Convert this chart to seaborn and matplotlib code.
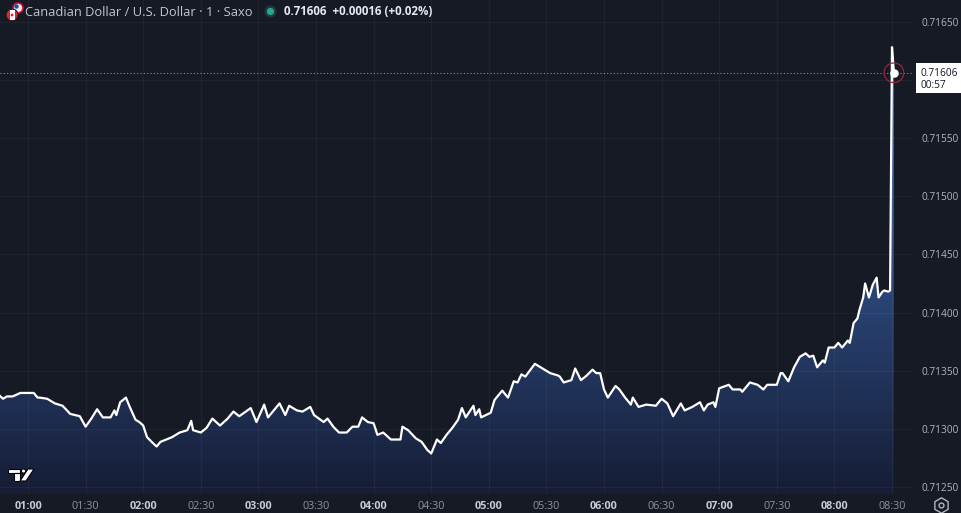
import numpy as np
import pandas as pd
import matplotlib
matplotlib.use("Agg")
import matplotlib.pyplot as plt
import seaborn as sns
from matplotlib.colors import LinearSegmentedColormap
from matplotlib.transforms import IdentityTransform
from matplotlib.patches import Circle, Rectangle, Polygon
from matplotlib.lines import Line2D

# ---------------- data (1-minute closes, minutes since 00:00) ----------------
minutes = [45, 47, 49, 52, 56, 63, 65, 66, 70, 74, 78, 82, 87, 90, 93, 96, 99, 103,
           105, 106, 108, 111, 113, 116, 118, 120, 122, 125, 127, 129, 132, 135, 139,
           143, 145, 146, 150, 153, 156, 160, 164, 167, 170, 176, 179, 183, 185, 188,
           191, 194, 196, 200, 203, 207, 209, 214, 216, 219, 222, 226, 229, 232, 234,
           237, 240, 242, 245, 249, 251, 254, 255, 258, 262, 265, 268, 270, 273, 275,
           278, 281, 284, 286, 288, 292, 293, 295, 296, 301, 303, 307, 310, 313, 315,
           317, 319, 324, 328, 332, 336, 337, 339, 343, 345, 348, 351, 354, 356, 358,
           360, 362, 366, 368, 371, 374, 375, 378, 382, 387, 390, 393, 396, 400, 402,
           406, 410, 412, 414, 417, 418, 420, 425, 427, 431, 432, 436, 440, 443, 445,
           450, 452, 453, 456, 459, 462, 465, 467, 469, 471, 474, 475, 477, 480, 482,
           484, 487, 488, 490, 492, 493, 495, 496, 498, 500, 502, 503, 505, 506, 508,
           509, 510, 511]
prices = [0.71329, 0.71326, 0.71328, 0.71328, 0.71331, 0.71331, 0.71327, 0.71327,
          0.71326, 0.71322, 0.71320, 0.71313, 0.71311, 0.71302, 0.71309, 0.71317,
          0.71310, 0.71310, 0.71316, 0.71312, 0.71323, 0.71327, 0.71319, 0.71308,
          0.71306, 0.71303, 0.71293, 0.71288, 0.71285, 0.71289, 0.71291, 0.71293,
          0.71297, 0.71299, 0.71307, 0.71299, 0.71297, 0.71301, 0.71309, 0.71303,
          0.71309, 0.71315, 0.71311, 0.71318, 0.71306, 0.71321, 0.71310, 0.71316,
          0.71322, 0.71312, 0.71320, 0.71316, 0.71315, 0.71319, 0.71312, 0.71306,
          0.71309, 0.71302, 0.71297, 0.71297, 0.71302, 0.71302, 0.71310, 0.71306,
          0.71305, 0.71295, 0.71297, 0.71291, 0.71291, 0.71291, 0.71302, 0.71299,
          0.71292, 0.71289, 0.71282, 0.71279, 0.71291, 0.71288, 0.71295, 0.71301,
          0.71308, 0.71318, 0.71310, 0.71320, 0.71312, 0.71317, 0.71310, 0.71314,
          0.71325, 0.71333, 0.71327, 0.71341, 0.71340, 0.71347, 0.71345, 0.71356,
          0.71352, 0.71348, 0.71346, 0.71345, 0.71340, 0.71342, 0.71352, 0.71342,
          0.71346, 0.71351, 0.71348, 0.71348, 0.71334, 0.71327, 0.71337, 0.71334,
          0.71327, 0.71321, 0.71327, 0.71319, 0.71321, 0.71320, 0.71326, 0.71322,
          0.71311, 0.71322, 0.71316, 0.71319, 0.71323, 0.71316, 0.71321, 0.71323,
          0.71319, 0.71335, 0.71338, 0.71334, 0.71334, 0.71332, 0.71340, 0.71338,
          0.71334, 0.71338, 0.71338, 0.71348, 0.71348, 0.71341, 0.71353, 0.71362,
          0.71365, 0.71362, 0.71363, 0.71353, 0.71359, 0.71357, 0.71370, 0.71370,
          0.71374, 0.71370, 0.71376, 0.71374, 0.71391, 0.71395, 0.71402, 0.71413,
          0.71425, 0.71413, 0.71424, 0.71430, 0.71413, 0.71418, 0.71419, 0.71418,
          0.71419, 0.71628, 0.71606]

time_ticks = [60, 90, 120, 150, 180, 210, 240, 270, 300, 330, 360, 390, 420, 450, 480, 510]
time_labels = ["01:00", "01:30", "02:00", "02:30", "03:00", "03:30", "04:00", "04:30",
               "05:00", "05:30", "06:00", "06:30", "07:00", "07:30", "08:00", "08:30"]
price_ticks = [0.71250, 0.71300, 0.71350, 0.71400, 0.71450, 0.71500, 0.71550, 0.71600, 0.71650]
price_labels = ["0.71250", "0.71300", "0.71350", "0.71400", "0.71450", "0.71500",
                "0.71550", "", "0.71650"]
last_price = 0.71606
last_label = "0.71606"
countdown = "00:57"
title = "Canadian Dollar / U.S. Dollar · 1 · Saxo"
quote = "0.71606  +0.00016 (+0.02%)"

# ---------------- style ----------------
W, H = 962, 513
BG = "#161a25"
sns.set_theme(style="dark", rc={
    "axes.facecolor": BG, "figure.facecolor": BG, "savefig.facecolor": BG,
    "axes.edgecolor": BG, "text.color": "#d1d4dc",
    "xtick.color": "#b2b5be", "ytick.color": "#b2b5be",
})
plt.rcParams['font.family'] = ['Open Sans', 'DejaVu Sans']

fig = plt.figure(figsize=(W / 100, H / 100), dpi=100)
plot_right = 912
plot_bottom = 494
ax = fig.add_axes([0, 1 - plot_bottom / H, plot_right / W, plot_bottom / H])

px_per_min = 1.92
xmin = 60 - 28 / px_per_min
xmax = xmin + plot_right / px_per_min
ymin, ymax = 0.712442, 0.716685

df = pd.DataFrame({"t": minutes, "p": prices})

# gradient area
poly = ax.fill_between(df["t"], df["p"], ymin, facecolor="none", edgecolor="none")
top = max(prices)
mid = (0.71419 - ymin) / (top - ymin)
cmap = LinearSegmentedColormap.from_list(
    "tvfill", [(0.0, "#161d35"), (mid, "#2a4577"), (1.0, "#4a7ac6")])
grad = np.linspace(0, 1, 512).reshape(-1, 1)
im = ax.imshow(grad, extent=[xmin, xmax, ymin, top], origin="lower",
               aspect="auto", cmap=cmap, zorder=1, interpolation="bilinear")
im.set_clip_path(poly.get_paths()[0], transform=ax.transData)

sns.lineplot(data=df, x="t", y="p", color="white", linewidth=1.6, ax=ax, zorder=3)

# last price line, ring and dot
ax.axhline(last_price, color="#8a8d96", linestyle=(0, (1, 2)), linewidth=0.8, zorder=2)
ax.scatter([minutes[-1]], [last_price], s=200, facecolors="none",
           edgecolors="#9b2333", linewidths=0.9, zorder=4)
ax.scatter([minutes[-1]], [last_price], s=26, color="white", zorder=5)

ax.set_xlim(xmin, xmax)
ax.set_ylim(ymin, ymax)
ax.set_xlabel("")
ax.set_ylabel("")
ax.set_xticks(time_ticks, time_labels)
ax.set_yticks(price_ticks, price_labels)
ax.yaxis.tick_right()
ax.tick_params(axis="y", length=0, pad=7, labelsize=7.3, colors="#b2b5be")
ax.tick_params(axis="x", length=0, pad=5, labelsize=7.8)
for lab in ax.get_xticklabels():
    if lab.get_text().endswith(":00"):
        lab.set_fontweight("bold")
        lab.set_color("#c8cbd3")
    else:
        lab.set_color("#8f929b")
ax.grid(True, color="white", alpha=0.045, linewidth=0.9)
ax.set_axisbelow(False)
for s in ax.spines.values():
    s.set_visible(False)

# ---------------- decorations in pixel coordinates ----------------
T = IdentityTransform()
def P(x, y):
    return (x, H - y)

# price box on the axis
fig.add_artist(Rectangle(P(916, 93), 46, 30, transform=T, facecolor="white",
                         edgecolor="none", zorder=10))
fig.text(921 / W, 1 - 73 / H, last_label, fontsize=7.3, color="#131722",
         va="center", ha="left", zorder=11)
fig.text(921 / W, 1 - 86 / H, countdown, fontsize=7.3, color="#131722",
         va="center", ha="left", zorder=11)

# header: flags
fig.add_artist(Circle(P(18, 8), 5, transform=T, facecolor="#e9e9ef",
                      edgecolor="#c8102e", linewidth=1.2, zorder=10))
fig.add_artist(Circle(P(16.5, 6.5), 2.2, transform=T, facecolor="#2b4aa8",
                      edgecolor="none", zorder=10))
fig.add_artist(Circle(P(12, 15), 6, transform=T, facecolor="#e0252f",
                      edgecolor="#161a25", linewidth=0.8, zorder=11))
fig.add_artist(Rectangle(P(9.5, 20), 5, 10, transform=T, facecolor="white",
                         edgecolor="none", zorder=12))
fig.add_artist(Circle(P(12, 15), 1.4, transform=T, facecolor="#e0252f",
                      edgecolor="none", zorder=13))

fig.text(25 / W, 1 - 12 / H, title, fontsize=9.3, color="#c3c6ce", va="center", ha="left")
fig.add_artist(Circle(P(270.5, 11.5), 6, transform=T, facecolor="#1b3b3c",
                      edgecolor="none", zorder=10))
fig.add_artist(Circle(P(270.5, 11.5), 3.6, transform=T, facecolor="#22ab94",
                      edgecolor="none", zorder=11))
fig.text(284 / W, 1 - 11.5 / H, quote, fontsize=8.3, fontweight="bold",
         color="#e6e8ee", va="center", ha="left")

# TradingView logo
for poly_pts in ([(8, 469), (20, 469), (20, 472.5), (8, 472.5)],
                 [(13.5, 472.5), (19.5, 472.5), (19.5, 481), (13.5, 481)],
                 [(28, 469), (34, 469), (26, 481), (20, 481)]):
    fig.add_artist(Polygon([P(a, b) for a, b in poly_pts], closed=True, transform=T,
                           facecolor="white", edgecolor="black", linewidth=0.8, zorder=10))
fig.add_artist(Circle(P(23.5, 471), 2.1, transform=T, facecolor="white",
                      edgecolor="black", linewidth=0.8, zorder=10))

# settings icon
fig.add_artist(Line2D([941], [H - 505], transform=T, marker="h", markersize=11,
                      markerfacecolor="none", markeredgecolor="#b2b5be",
                      markeredgewidth=1.0, linestyle="none"))
fig.add_artist(Line2D([941], [H - 505], transform=T, marker="o", markersize=3.5,
                      markerfacecolor="none", markeredgecolor="#b2b5be",
                      markeredgewidth=1.0, linestyle="none"))

fig.savefig("out.png", dpi=100)
